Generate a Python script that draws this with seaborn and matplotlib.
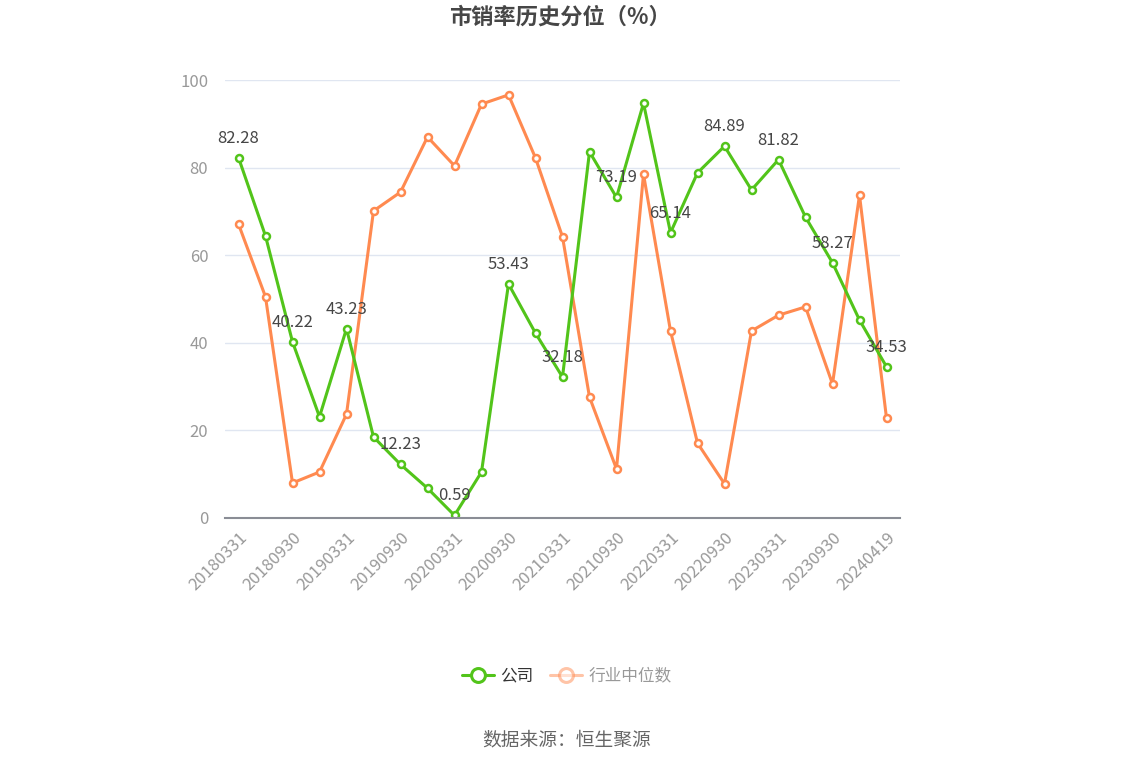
import numpy as np
import pandas as pd
import matplotlib
matplotlib.use("Agg")
import matplotlib.pyplot as plt
import seaborn as sns
from matplotlib.lines import Line2D

dates = ["20180331", "20180630", "20180930", "20181231",
         "20190331", "20190630", "20190930", "20191231",
         "20200331", "20200630", "20200930", "20201231",
         "20210331", "20210630", "20210930", "20211231",
         "20220331", "20220630", "20220930", "20221231",
         "20230331", "20230630", "20230930", "20231231",
         "20240419"]
company = [82.28, 64.4, 40.22, 23.1, 43.23, 18.5, 12.23, 6.8, 0.59, 10.5,
           53.43, 42.2, 32.18, 83.6, 73.19, 94.7, 65.14, 78.8, 84.89, 74.9,
           81.82, 68.7, 58.27, 45.2, 34.53]
industry = [67.1, 50.5, 8.0, 10.5, 23.7, 70.1, 74.4, 87.0, 80.4, 94.5,
            96.6, 82.2, 64.2, 27.6, 11.2, 78.5, 42.7, 17.1, 7.8, 42.7,
            46.3, 48.2, 30.6, 73.7, 22.8]
series_names = ["公司", "行业中位数"]
title = "市销率历史分位（%）"
source = "数据来源：恒生聚源"
yticks = [0, 20, 40, 60, 80, 100]

GREEN = "#52C41A"
ORANGE = "#FF8A50"

sns.set_style("white")
plt.rcParams["font.family"] = ["Noto Sans CJK SC", "DejaVu Sans"]

n = len(dates)
df = pd.DataFrame({
    "idx": list(range(n)) * 2,
    "value": company + industry,
    "series": [series_names[0]] * n + [series_names[1]] * n,
})

fig = plt.figure(figsize=(11.34, 7.66), dpi=100)
ax = fig.add_axes([225 / 1134, 1 - 518 / 766, 675 / 1134, 438 / 766])

sns.lineplot(data=df, x="idx", y="value", hue="series",
             hue_order=series_names[::-1], palette=[ORANGE, GREEN],
             marker="o", markersize=5, markerfacecolor="white",
             markeredgewidth=1.8, linewidth=2.2, ax=ax, legend=False)
for ln in ax.lines:
    ln.set_markeredgecolor(ln.get_color())

ax.set_xlim(-0.5, n - 0.5)
ax.set_ylim(0, 100)
ax.set_yticks(yticks)
ax.set_yticklabels([str(v) for v in yticks], color="#999999", fontsize=12)
ax.set_xticks(list(range(0, n, 2)))
ax.set_xticklabels([dates[i] for i in range(0, n, 2)], rotation=45,
                   ha="right", rotation_mode="anchor", color="#999999",
                   fontsize=12)
ax.set_xlabel("")
ax.set_ylabel("")
ax.grid(axis="y", color="#E0E6F1", linewidth=1)
ax.set_axisbelow(True)
for s in ["top", "right", "left"]:
    ax.spines[s].set_visible(False)
ax.spines["bottom"].set_color("#8A8D95")
ax.spines["bottom"].set_linewidth(1.5)
ax.tick_params(axis="x", length=5, color="#8A8D95", width=1.2, pad=3)
ax.tick_params(axis="y", length=0, pad=12)

for i in range(0, n, 2):
    ax.annotate(f"{company[i]:.2f}", (i, company[i]), xytext=(0, 14),
                textcoords="offset points", ha="center", va="center",
                fontsize=12, color="#464646")

fig.text(0.494, 1 - 17 / 766, title, ha="center", va="center",
         fontsize=16, fontweight="bold", color="#464646")

handles = [
    Line2D([0], [0], color=GREEN, linewidth=2.2, marker="o", markersize=10,
           markerfacecolor="white", markeredgewidth=2.2, markeredgecolor=GREEN),
    Line2D([0], [0], color=ORANGE, linewidth=2.2, marker="o", markersize=10,
           markerfacecolor="white", markeredgewidth=2.2, markeredgecolor=ORANGE,
           alpha=0.5),
]
leg = fig.legend(handles, series_names, loc="center",
                 bbox_to_anchor=(567 / 1134, 1 - 676 / 766), ncol=2,
                 frameon=False, fontsize=12, handlelength=1.9,
                 columnspacing=1.0, handletextpad=0.4)
leg.get_texts()[0].set_color("#333333")
leg.get_texts()[1].set_color("#999999")

fig.text(567 / 1134, 1 - 740 / 766, source, ha="center", va="center",
         fontsize=13.5, color="#666666")

fig.savefig("out.png", dpi=100)
